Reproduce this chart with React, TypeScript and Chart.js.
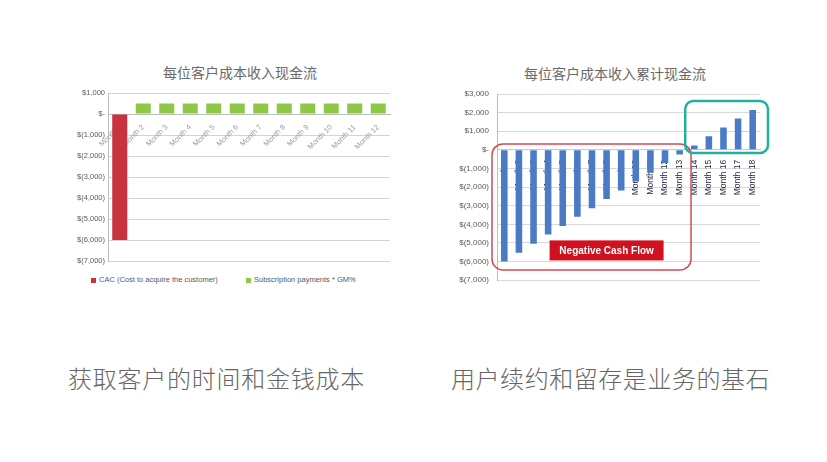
import { useEffect, useRef } from 'react'
import { Chart, registerables } from 'chart.js'

Chart.register(...registerables)

// left chart: cash flow per customer
const leftMonths = ['Month 1', 'Month 2', 'Month 3', 'Month 4', 'Month 5', 'Month 6', 'Month 7', 'Month 8', 'Month 9', 'Month 10', 'Month 11', 'Month 12']
const cacValues = [-6000, null, null, null, null, null, null, null, null, null, null, null]
const subscriptionValues = [null, 500, 500, 500, 500, 500, 500, 500, 500, 500, 500, 500]
const leftTickValues = [1000, 0, -1000, -2000, -3000, -4000, -5000, -6000, -7000]
const leftTickLabels = ['$1,000', '$-', '$(1,000)', '$(2,000)', '$(3,000)', '$(4,000)', '$(5,000)', '$(6,000)', '$(7,000)']

// right chart: cumulative cash flow
const rightMonths = ['Month 1', 'Month 2', 'Month 3', 'Month 4', 'Month 5', 'Month 6', 'Month 7', 'Month 8', 'Month 9', 'Month 10', 'Month 11', 'Month 12', 'Month 13', 'Month 14', 'Month 15', 'Month 16', 'Month 17', 'Month 18']
const cumulativeValues = [-6000, -5520, -5040, -4550, -4090, -3590, -3130, -2640, -2180, -1700, -1230, -700, -250, 230, 730, 1200, 1680, 2140]
const rightTickValues = [3000, 2000, 1000, 0, -1000, -2000, -3000, -4000, -5000, -6000, -7000]
const rightTickLabels = ['$3,000', '$2,000', '$1,000', '$-', '$(1,000)', '$(2,000)', '$(3,000)', '$(4,000)', '$(5,000)', '$(6,000)', '$(7,000)']

const FONT = '"Liberation Sans", "Noto Sans CJK SC", sans-serif'
const CJK = '"Noto Sans CJK SC", sans-serif'

const cashFlowNotes = {
  id: 'cashFlowNotes',
  afterDraw(chart: any) {
    const { ctx, chartArea, scales: { x, y } } = chart
    const w = x.getPixelForValue(1) - x.getPixelForValue(0)
    ctx.save()

    // red frame round the negative months
    const rl = chartArea.left - 5
    const rr = x.getPixelForValue(12) + 0.78 * w
    const rt = y.getPixelForValue(320)
    const rb = y.getPixelForValue(-6450)
    ctx.beginPath()
    ctx.roundRect(rl, rt, rr - rl, rb - rt, 11)
    ctx.strokeStyle = '#d24a55'
    ctx.lineWidth = 1.5
    ctx.stroke()

    // teal frame round the positive months
    const tl = x.getPixelForValue(12) + 0.38 * w
    const tr = chartArea.right + 8
    const tt = y.getPixelForValue(2620)
    const tb = y.getPixelForValue(-170)
    ctx.beginPath()
    ctx.roundRect(tl, tt, tr - tl, tb - tt, 8)
    ctx.strokeStyle = '#22b09a'
    ctx.lineWidth = 2.5
    ctx.stroke()

    // label box
    const cx = x.getPixelForValue(7)
    const cy = y.getPixelForValue(-5400)
    ctx.fillStyle = '#d0111f'
    ctx.fillRect(cx - 57, cy - 10, 114, 20)
    ctx.fillStyle = '#ffffff'
    ctx.font = 'bold 10px ' + FONT
    ctx.textAlign = 'center'
    ctx.textBaseline = 'middle'
    ctx.fillText('Negative Cash Flow', cx, cy + 0.5)
    ctx.restore()
  }
}

export default function App() {
  const leftRef = useRef<HTMLCanvasElement>(null)
  const rightRef = useRef<HTMLCanvasElement>(null)

  useEffect(() => {
    if (!leftRef.current || !rightRef.current) return

    const left = new Chart(leftRef.current, {
      type: 'bar',
      data: {
        labels: leftMonths,
        datasets: [
          { label: 'CAC (Cost to acquire the customer)', data: cacValues, backgroundColor: '#c8333d', categoryPercentage: 0.8, barPercentage: 0.8 },
          { label: 'Subscription payments * GM%', data: subscriptionValues, backgroundColor: '#8fc846', categoryPercentage: 0.8, barPercentage: 0.8 }
        ]
      },
      options: {
        animation: false,
        responsive: true,
        maintainAspectRatio: false,
        layout: { padding: { left: 0, right: 35, top: 35, bottom: 12 } },
        plugins: {
          legend: { display: false },
          tooltip: { enabled: false }
        },
        scales: {
          x: {
            stacked: true,
            position: { y: 0 },
            z: 1,
            grid: { display: false },
            border: { color: '#bdbdbd' },
            ticks: { autoSkip: false, minRotation: 45, maxRotation: 45, padding: 1, color: '#9c9c9c', font: { family: FONT, size: 7.5 } }
          },
          y: {
            stacked: true,
            min: -7000,
            max: 1000,
            afterFit: (s: any) => { s.width = 53 },
            afterBuildTicks: (s: any) => { s.ticks = leftTickValues.map(v => ({ value: v })) },
            grid: { color: '#d4d4d4', drawTicks: false },
            border: { color: '#bdbdbd' },
            ticks: {
              padding: 3,
              color: '#5a5a5a',
              font: { family: FONT, size: 7.5 },
              callback: (v: any) => leftTickLabels[leftTickValues.indexOf(Number(v))] ?? ''
            }
          }
        }
      }
    })

    const right = new Chart(rightRef.current, {
      type: 'bar',
      data: {
        labels: rightMonths,
        datasets: [
          { label: 'Cumulative cash flow', data: cumulativeValues, backgroundColor: '#4a7bc4', categoryPercentage: 0.9, barPercentage: 0.5 }
        ]
      },
      options: {
        animation: false,
        responsive: true,
        maintainAspectRatio: false,
        layout: { padding: { left: 0, right: 30, top: 36, bottom: 12 } },
        plugins: {
          legend: { display: false },
          tooltip: { enabled: false }
        },
        scales: {
          x: {
            position: { y: 0 },
            z: 1,
            grid: { display: false },
            border: { color: '#c8c8c8' },
            ticks: { autoSkip: false, minRotation: 90, maxRotation: 90, padding: 2, color: '#1d2440', font: { family: FONT, size: 8.5 } }
          },
          y: {
            min: -7000,
            max: 3000,
            afterFit: (s: any) => { s.width = 57 },
            afterBuildTicks: (s: any) => { s.ticks = rightTickValues.map(v => ({ value: v })) },
            grid: { color: '#d9d9d9', drawTicks: false },
            border: { color: '#bdbdbd' },
            ticks: {
              padding: 8,
              color: '#5a5a5a',
              font: { family: FONT, size: 8 },
              callback: (v: any) => rightTickLabels[rightTickValues.indexOf(Number(v))] ?? ''
            }
          }
        }
      },
      plugins: [cashFlowNotes]
    })

    return () => { left.destroy(); right.destroy() }
  }, [])

  const title = { position: 'absolute' as const, width: 300, textAlign: 'center' as const, fontFamily: CJK, fontSize: 14, lineHeight: '18px', color: '#6a6a6a', whiteSpace: 'nowrap' as const }
  const caption = { position: 'absolute' as const, top: 363, fontFamily: CJK, fontSize: 24, lineHeight: '30px', color: '#666', fontWeight: 300, whiteSpace: 'nowrap' as const }
  const legendItem = { position: 'absolute' as const, top: 275, fontFamily: FONT, fontSize: 7.5, lineHeight: '10px', color: '#595959', whiteSpace: 'nowrap' as const }
  const dot = { display: 'inline-block', width: 5, height: 5, marginRight: 3, verticalAlign: 'middle' }

  return (
    <div style={{ position: 'fixed', left: 0, top: 0, width: 827, height: 462, background: '#fff', overflow: 'hidden' }}>
      <div style={{ ...title, left: 90, top: 63 }}>每位客户成本收入现金流</div>
      <div style={{ position: 'absolute', left: 55, top: 58, width: 370, height: 215 }}>
        <canvas ref={leftRef} />
      </div>
      <div style={{ ...legendItem, left: 91 }}><span style={{ ...dot, background: '#c8333d' }} />CAC (Cost to acquire the customer)</div>
      <div style={{ ...legendItem, left: 246 }}><span style={{ ...dot, background: '#8fc846' }} />Subscription payments * GM%</div>

      <div style={{ ...title, left: 465, top: 64 }}>每位客户成本收入累计现金流</div>
      <div style={{ position: 'absolute', left: 440, top: 58, width: 350, height: 235 }}>
        <canvas ref={rightRef} />
      </div>

      <div style={{ ...caption, left: 68, letterSpacing: 0.75 }}>获取客户的时间和金钱成本</div>
      <div style={{ ...caption, left: 451, letterSpacing: 0.55 }}>用户续约和留存是业务的基石</div>
    </div>
  )
}
